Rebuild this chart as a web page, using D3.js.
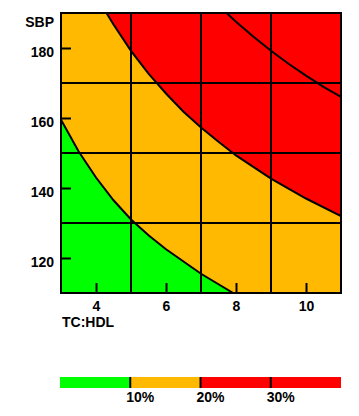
<!DOCTYPE html>
<html><head><meta charset="utf-8">
<script src="https://cdn.jsdelivr.net/npm/d3@7"></script>
<style>body{margin:0;background:#fff}text{font-family:"Liberation Sans",Arial,sans-serif;font-weight:bold;font-size:14px;fill:#000}</style>
</head><body><svg id="c" width="359" height="416"></svg>
<script>
const xTicks=[4,6,8,10];
const yTicks=[120,140,160,180];
const xGrid=[5,7,9];
const yGrid=[130,150,170];
const curve10X=[3,3.5,4,4.5,5,5.5,6,6.5,7,7.5,7.92];
const curve10Y=[159.5,150.5,143,136.5,131,126.5,122.5,119,115.5,112.5,110];
const curve20X=[4.3,4.5,5,5.5,6,6.5,7,7.5,8,9,10,11];
const curve20Y=[190,186.7,179.2,172.7,167,161.8,157.3,153.2,149.3,142.7,137,132];
const curve30X=[7.73,8,8.5,9,9.5,10,10.5,11];
const curve30Y=[190,187.5,183.2,179.2,175.5,172.1,168.9,166];
const legendBreaks=[0,10,20,40];
const legendColors=["#00ff00","#ffb900","#ff0000"];
const legendTicks=[10,20,30];

const svg=d3.select("#c");
const x=d3.scaleLinear().domain([3,11]).range([61,341]);
const y=d3.scaleLinear().domain([110,190]).range([293,13]);
const zip=(a,b)=>a.map((v,i)=>[v,b[i]]);
const c10=zip(curve10X,curve10Y), c20=zip(curve20X,curve20Y), c30=zip(curve30X,curve30Y);

svg.append("clipPath").attr("id","pc").append("rect").attr("x",61).attr("y",13).attr("width",280).attr("height",280);
const g=svg.append("g").attr("clip-path","url(#pc)");
g.append("rect").attr("x",61).attr("y",13).attr("width",280).attr("height",280).attr("fill",legendColors[1]);
g.append("path").attr("fill",legendColors[0])
 .attr("d",d3.area().x(d=>x(d[0])).y0(y(110)).y1(d=>y(d[1]))(c10));
g.append("path").attr("fill",legendColors[2])
 .attr("d",d3.area().x(d=>x(d[0])).y0(y(190)).y1(d=>y(d[1]))(c20));
// grid
xGrid.forEach(v=>g.append("line").attr("x1",x(v)).attr("x2",x(v)).attr("y1",13).attr("y2",293).attr("stroke","#000").attr("stroke-width",2));
yGrid.forEach(v=>g.append("line").attr("y1",y(v)).attr("y2",y(v)).attr("x1",61).attr("x2",341).attr("stroke","#000").attr("stroke-width",2));
const line=d3.line().x(d=>x(d[0])).y(d=>y(d[1]));
[c10,c20,c30].forEach(c=>g.append("path").attr("d",line(c)).attr("fill","none").attr("stroke","#000").attr("stroke-width",2));
// frame
svg.append("rect").attr("x",61).attr("y",13).attr("width",280).attr("height",280).attr("fill","none").attr("stroke","#000").attr("stroke-width",2);
// axes
const xa=svg.append("g").attr("transform","translate(0,293)")
 .call(d3.axisTop(x).tickValues(xTicks).tickSize(10).tickFormat(d3.format("d")));
xa.select(".domain").remove();
xa.selectAll("line").attr("stroke","#000").attr("stroke-width",2);
xa.selectAll("text").attr("y",18).attr("dy",0).attr("text-anchor","middle").style("font-size","14px").style("font-family","Liberation Sans, Arial").style("font-weight","bold").attr("fill","#000");
const ya=svg.append("g").attr("transform","translate(61,0)")
 .call(d3.axisRight(y).tickValues(yTicks).tickSize(10).tickFormat(d3.format("d")));
ya.select(".domain").remove();
ya.selectAll("line").attr("stroke","#000").attr("stroke-width",2);
ya.selectAll("text").attr("x",-7).attr("dy",8.5).attr("text-anchor","end").style("font-size","14px").style("font-family","Liberation Sans, Arial").style("font-weight","bold").attr("fill","#000");
svg.append("text").attr("x",54).attr("y",27).attr("text-anchor","end").text("SBP");
svg.append("text").attr("x",62).attr("y",327).text("TC:HDL");
// legend
const lx=d3.scaleLinear().domain([0,40]).range([60,341]);
legendColors.forEach((c,i)=>svg.append("rect").attr("x",lx(legendBreaks[i])).attr("y",377).attr("width",lx(legendBreaks[i+1])-lx(legendBreaks[i])).attr("height",11).attr("fill",c));
legendTicks.forEach(t=>{
 svg.append("line").attr("x1",lx(t)).attr("x2",lx(t)).attr("y1",377).attr("y2",388).attr("stroke","#000").attr("stroke-width",2);
 svg.append("text").attr("x",lx(t)-4).attr("y",402).text(t+"%");
});
</script></body></html>
